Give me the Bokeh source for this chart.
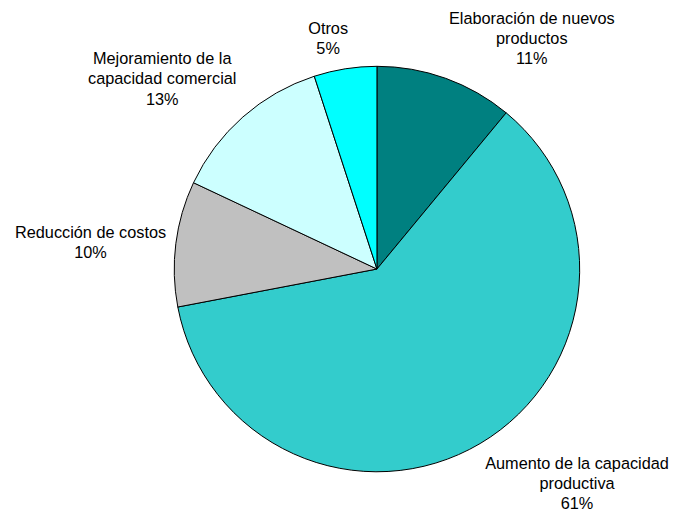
import math
from bokeh.plotting import figure
from bokeh.models import Range1d, ColumnDataSource
from bokeh.core.properties import value
from bokeh.embed import file_html
from bokeh.resources import INLINE

# ---- data ----
categories = ["Elaboración de nuevos productos",
              "Aumento de la capacidad productiva",
              "Reducción de costos",
              "Mejoramiento de la capacidad comercial",
              "Otros"]
label_names = ["Elaboración de nuevos\nproductos",
               "Aumento de la capacidad\nproductiva",
               "Reducción de costos",
               "Mejoramiento de la\ncapacidad comercial",
               "Otros"]
values = [11, 61, 10, 13, 5]
colors = ["#008080", "#33CCCC", "#C0C0C0", "#CCFFFF", "#00FFFF"]

# ---- layout (figure pixels, y measured from top) ----
W, H = 676, 514
S = 0.97                     # overall scale so that the whole fits
OX, OY = 3, -5               # small shift
CX = OX + S * 385
CY_TOP = OY + S * 282
R = S * 209
FONT_PX = S * 16.8
LINE_PX = S * 21.5
GAP = S * 10

# Arial-like advance widths (per 1000 em) for label width estimates
AW = {" ": 278, "%": 889, "A": 667, "E": 667, "M": 833, "O": 778, "R": 722,
      "a": 556, "b": 556, "c": 500, "d": 556, "e": 556, "i": 222, "j": 222,
      "l": 222, "m": 833, "n": 556, "o": 556, "ó": 556, "p": 556, "r": 333,
      "s": 500, "t": 278, "u": 556, "v": 500}


def text_w(s):
    return sum(AW.get(ch, 556) for ch in s) / 1000.0 * FONT_PX


CY = H - CY_TOP  # data y (up)

total = float(sum(values))
starts, ends, texts, lx, ly = [], [], [], [], []
cum = 0.0
for name, v in zip(label_names, values):
    a0 = math.pi / 2 - cum / total * 2 * math.pi
    cum += v
    a1 = math.pi / 2 - cum / total * 2 * math.pi
    starts.append(a0)
    ends.append(a1)
    txt = name + "\n" + f"{round(v / total * 100)}%"
    texts.append(txt)
    mid = (a0 + a1) / 2
    c, s = math.cos(mid), math.sin(mid)
    px = CX + (R + GAP) * c
    py = CY + (R + GAP) * s
    lines = txt.split("\n")
    w = max(text_w(l) for l in lines)
    h = len(lines) * LINE_PX
    sx = max(-1.0, min(1.0, c / 0.2))
    sy = math.copysign(max(0.0, min(1.0, (abs(s) - 0.15) / 0.3)), s)
    lx.append(px + sx * w / 2)
    ly.append(py + sy * h / 2)

src = ColumnDataSource(dict(start=starts, end=ends, color=colors, cat=categories))
lsrc = ColumnDataSource(dict(x=lx, y=ly, text=texts))

p = figure(width=W, height=H, output_backend="svg", toolbar_location=None,
           x_range=Range1d(0, W), y_range=Range1d(0, H),
           min_border=0)
p.axis.visible = False
p.grid.visible = False
p.outline_line_color = None
p.background_fill_color = "white"
p.border_fill_color = "white"

p.wedge(x=CX, y=CY, radius=R, start_angle="start", end_angle="end",
        direction="clock", fill_color="color", line_color="black",
        line_width=1, source=src)

p.text(x="x", y="y", text="text", source=lsrc,
       text_font=value("Liberation Sans"), text_font_size=f"{FONT_PX:.2f}px",
       text_color="black", text_align="center", text_baseline="middle",
       text_line_height=1.12)

open("out.html", "w").write(file_html(p, INLINE))
